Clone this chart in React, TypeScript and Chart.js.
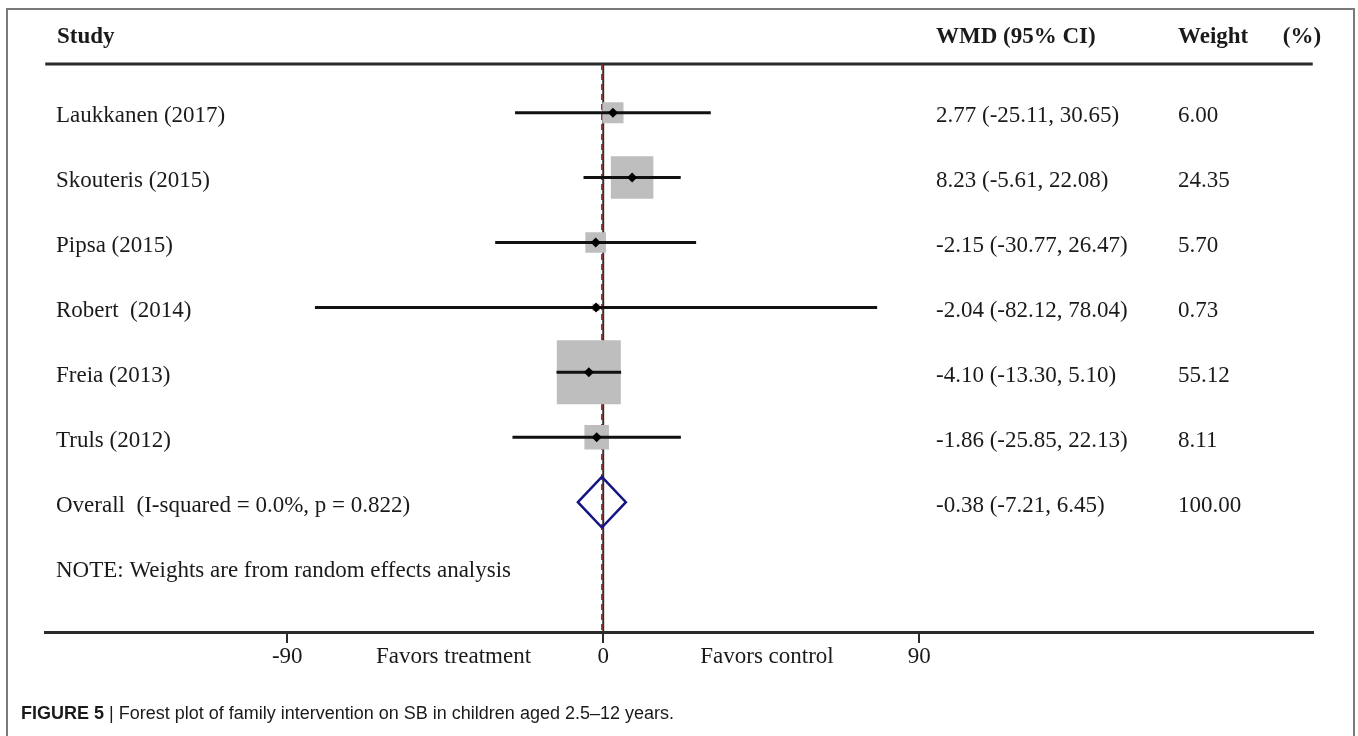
import React, { useEffect, useRef } from 'react';
import { Chart, registerables } from 'chart.js';

Chart.register(...registerables);

// ---------- data ----------
const studyLabels = [
  'Laukkanen (2017)',
  'Skouteris (2015)',
  'Pipsa (2015)',
  'Robert  (2014)',
  'Freia (2013)',
  'Truls (2012)',
];
const estimates = [2.77, 8.23, -2.15, -2.04, -4.1, -1.86];
const lowerCI = [-25.11, -5.61, -30.77, -82.12, -13.3, -25.85];
const upperCI = [30.65, 22.08, 26.47, 78.04, 5.1, 22.13];
const weights = [6.0, 24.35, 5.7, 0.73, 55.12, 8.11];

const overallLabel = 'Overall  (I-squared = 0.0%, p = 0.822)';
const overallEstimate = -0.38;
const overallLower = -7.21;
const overallUpper = 6.45;
const overallWeight = 100.0;

const noteText = 'NOTE: Weights are from random effects analysis';
const headerLabels = ['Study', 'WMD (95% CI)', 'Weight      (%)'];
const xTickValues = [-90, 0, 90];
const favorsLabels = ['Favors treatment', 'Favors control'];
const captionBold = 'FIGURE 5';
const captionRest = ' | Forest plot of family intervention on SB in children aged 2.5\u201312 years.';

// ---------- layout / style constants ----------
const W = 1358;
const H = 736;
const X_MIN = -158.95;
const X_MAX = 202.13;
const Y_TOP = 0.25;
const Y_BOTTOM = 9;
const BOX_SIDE_PER_SQRT_WEIGHT = 8.62; // px of box side per sqrt(weight)
const DIAMOND_HALF = 0.39; // row units
const SERIF = '"Liberation Serif", "Times New Roman", serif';
const SANS = '"Liberation Sans", Arial, sans-serif';
const TEXT = '#1a1a1a';
const LINE = '#2b2b2b';
const COL_STUDY = 56;
const COL_WMD = 936;
const COL_WEIGHT = 1178;
const FAVORS_X = [453.5, 767];

const fmt = (v: number) => v.toFixed(2);

const textPlugin = {
  id: 'forestText',
  beforeDatasetsDraw(chart: any) {
    const { ctx, chartArea } = chart;
    ctx.save();
    ctx.strokeStyle = LINE;
    ctx.lineWidth = 3;
    ctx.beginPath();
    ctx.moveTo(chartArea.left, chartArea.top);
    ctx.lineTo(chartArea.right, chartArea.top);
    ctx.stroke();
    ctx.restore();
  },
  afterDraw(chart: any) {
    const { ctx, scales } = chart;
    const ys = scales.y;
    ctx.save();
    // frame
    ctx.strokeStyle = '#7a7a7a';
    ctx.lineWidth = 2;
    ctx.strokeRect(7, 9, 1347, H + 20);

    ctx.fillStyle = TEXT;
    ctx.textBaseline = 'alphabetic';
    ctx.textAlign = 'left';
    // headers
    ctx.font = `bold 23px ${SERIF}`;
    ctx.fillText(headerLabels[0], COL_STUDY + 1, 43);
    ctx.fillText(headerLabels[1], COL_WMD, 43);
    ctx.fillText(headerLabels[2], COL_WEIGHT, 43);

    ctx.font = `23px ${SERIF}`;
    const rowBase = (r: number) => ys.getPixelForValue(r) + 9.5;
    studyLabels.forEach((lab, i) => {
      const b = rowBase(i + 1);
      ctx.fillText(lab, COL_STUDY, b);
      ctx.fillText(`${fmt(estimates[i])} (${fmt(lowerCI[i])}, ${fmt(upperCI[i])})`, COL_WMD, b);
      ctx.fillText(fmt(weights[i]), COL_WEIGHT, b);
    });
    const ob = rowBase(studyLabels.length + 1);
    ctx.fillText(overallLabel, COL_STUDY, ob);
    ctx.fillText(`${fmt(overallEstimate)} (${fmt(overallLower)}, ${fmt(overallUpper)})`, COL_WMD, ob);
    ctx.fillText(fmt(overallWeight), COL_WEIGHT, ob);
    ctx.fillText(noteText, COL_STUDY, rowBase(studyLabels.length + 2));

    // favors labels
    ctx.textAlign = 'center';
    ctx.textBaseline = 'middle';
    const ty = chart.chartArea.bottom + 11 + 27.6 / 2;
    favorsLabels.forEach((f, i) => ctx.fillText(f, FAVORS_X[i], ty));

    // caption
    ctx.textAlign = 'left';
    ctx.textBaseline = 'alphabetic';
    ctx.font = `bold 18px ${SANS}`;
    ctx.fillText(captionBold, 21, 719);
    const bw = ctx.measureText(captionBold).width;
    ctx.font = `18px ${SANS}`;
    ctx.fillText(captionRest, 21 + bw, 719);
    ctx.restore();
  },
};

export default function App() {
  const ref = useRef<HTMLCanvasElement | null>(null);

  useEffect(() => {
    document.body.style.margin = '0';
    const canvas = ref.current;
    if (!canvas) return;

    const rows = studyLabels.map((_, i) => i + 1);
    const overallRow = studyLabels.length + 1;

    const ciSets = rows.map((r, i) => ({
      data: [
        { x: lowerCI[i], y: r },
        { x: upperCI[i], y: r },
      ],
      showLine: true,
      borderColor: '#111111',
      borderWidth: 3,
      borderCapStyle: 'butt',
      pointRadius: 0,
      order: 7,
    }));

    const chart = new Chart(canvas, {
      type: 'scatter',
      data: {
        datasets: [
          {
            data: [
              { x: 0, y: Y_TOP },
              { x: 0, y: Y_BOTTOM },
            ],
            showLine: true,
            borderColor: '#333333',
            borderWidth: 2,
            pointRadius: 0,
            order: 10,
          },
          {
            data: [
              { x: overallEstimate, y: Y_TOP },
              { x: overallEstimate, y: Y_BOTTOM },
            ],
            showLine: true,
            borderColor: '#a01818',
            borderWidth: 1.5,
            borderDash: [6, 4],
            pointRadius: 0,
            order: 9,
          },
          {
            data: rows.map((r, i) => ({ x: estimates[i], y: r })),
            showLine: false,
            pointStyle: 'rect',
            pointRadius: (c: any) =>
              (BOX_SIDE_PER_SQRT_WEIGHT * Math.sqrt(weights[c.dataIndex] ?? 0)) / Math.SQRT2,
            pointBackgroundColor: '#bebebe',
            pointBorderWidth: 0,
            order: 8,
          },
          ...ciSets,
          {
            data: rows.map((r, i) => ({ x: estimates[i], y: r })),
            showLine: false,
            pointStyle: 'rectRot',
            pointRadius: 5,
            pointBackgroundColor: '#000000',
            pointBorderWidth: 0,
            order: 6,
          },
          {
            data: [
              { x: overallLower, y: overallRow },
              { x: overallEstimate, y: overallRow - DIAMOND_HALF },
              { x: overallUpper, y: overallRow },
              { x: overallEstimate, y: overallRow + DIAMOND_HALF },
              { x: overallLower, y: overallRow },
              { x: overallEstimate, y: overallRow - DIAMOND_HALF },
            ],
            showLine: true,
            fill: false,
            borderColor: '#141485',
            borderWidth: 2.5,
            borderJoinStyle: 'miter',
            pointRadius: 0,
            tension: 0,
            order: 5,
          },
        ] as any,
      },
      options: {
        responsive: false,
        animation: false,
        devicePixelRatio: 1,
        events: [],
        layout: { padding: { left: 43, right: 44, top: 64, bottom: 0 } },
        plugins: {
          legend: { display: false },
          tooltip: { enabled: false },
        },
        scales: {
          x: {
            type: 'linear',
            min: X_MIN,
            max: X_MAX,
            afterBuildTicks: (s: any) => {
              s.ticks = xTickValues.map((v) => ({ value: v }));
            },
            afterFit: (s: any) => {
              s.height = 104;
            },
            grid: {
              drawOnChartArea: false,
              drawTicks: true,
              tickLength: 11,
              color: LINE,
              lineWidth: 2,
            },
            border: { display: true, color: LINE, width: 3 },
            ticks: {
              font: { family: SERIF, size: 23 },
              color: TEXT,
              padding: 0,
              maxRotation: 0,
              autoSkip: false,
              callback: (v: any) => String(v),
            },
          },
          y: {
            type: 'linear',
            min: Y_TOP,
            max: Y_BOTTOM,
            reverse: true,
            display: false,
          },
        },
      } as any,
      plugins: [textPlugin],
    });

    return () => chart.destroy();
  }, []);

  return (
    <div style={{ position: 'fixed', left: 0, top: 0, width: W, height: H, background: '#fff' }}>
      <canvas ref={ref} width={W} height={H} style={{ display: 'block' }} />
    </div>
  );
}
